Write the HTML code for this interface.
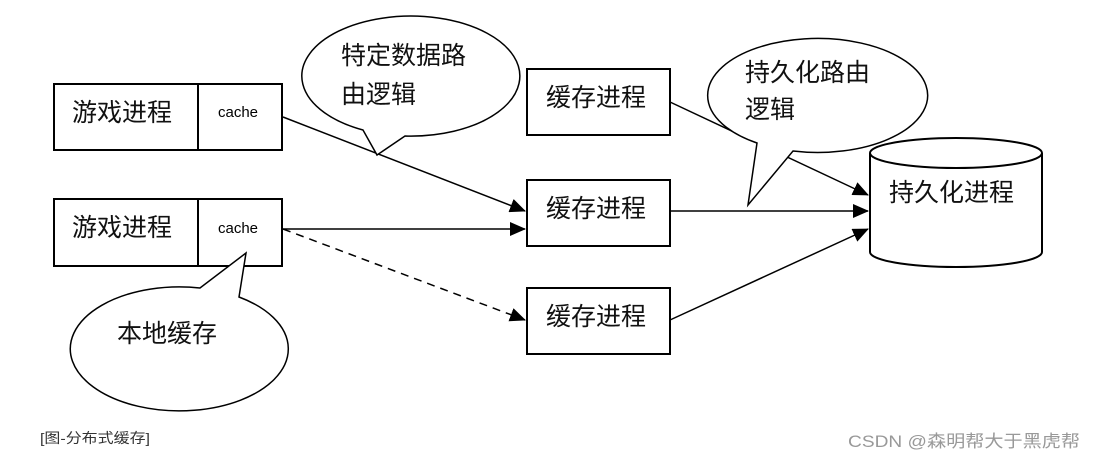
<!DOCTYPE html>
<html><head><meta charset="utf-8"><style>
html,body{margin:0;padding:0;background:#fff;width:1096px;height:461px;overflow:hidden}
svg text{font-family:"Liberation Sans","Noto Sans CJK SC",sans-serif}
</style></head><body>
<svg width="1096" height="461" xmlns="http://www.w3.org/2000/svg">
<defs><marker id="a" markerWidth="16" markerHeight="14" refX="15" refY="7" orient="auto" markerUnits="userSpaceOnUse"><path d="M0,0 L16,7 L0,14 z" fill="#000"/></marker></defs>
<g stroke="#000" stroke-width="2" fill="#fff">
<rect x="54" y="84" width="228" height="66"/><line x1="198" y1="84" x2="198" y2="150"/>
<rect x="54" y="199" width="228" height="67"/><line x1="198" y1="199" x2="198" y2="266"/>
<rect x="527" y="69" width="143" height="66"/>
<rect x="527" y="180" width="143" height="66"/>
<rect x="527" y="288" width="143" height="66"/>
<path d="M870,153 L870,252 A86,15 0 0 0 1042,252 L1042,153" />
<ellipse cx="956" cy="153" rx="86" ry="15"/>
</g>
<g stroke="#000" stroke-width="1.5" fill="none">
<line x1="283" y1="117" x2="525" y2="211" marker-end="url(#a)"/>
<line x1="283" y1="229" x2="525" y2="229" marker-end="url(#a)"/>
<line x1="283" y1="229" x2="525" y2="320" stroke-dasharray="8,6" marker-end="url(#a)"/>
<line x1="670" y1="102" x2="868" y2="195" marker-end="url(#a)"/>
<line x1="670" y1="211" x2="868" y2="211" marker-end="url(#a)"/>
<line x1="670" y1="320" x2="868" y2="229" marker-end="url(#a)"/>
</g>
<g stroke="#000" stroke-width="1.5" fill="#fff">
<path d="M363,130 A109,60 0 1 1 405,136 L377,155 Z"/>
<path d="M757,143 A110,57 0 1 1 793,151 L748,205 Z"/>
<path d="M200,288 A109,62 0 1 0 239,297 L246,253 Z"/>
</g>
<g font-size="25" fill="#111">
<text x="72" y="121">游戏进程</text>
<text x="72" y="236">游戏进程</text>
<text x="546" y="106">缓存进程</text>
<text x="546" y="217">缓存进程</text>
<text x="546" y="325">缓存进程</text>
<text x="889" y="201">持久化进程</text>
<text x="341" y="64">特定数据路</text>
<text x="341" y="103">由逻辑</text>
<text x="745" y="81">持久化路由</text>
<text x="745" y="118">逻辑</text>
<text x="117" y="342">本地缓存</text>
</g>
<text x="218" y="117" font-size="15">cache</text>
<text x="218" y="233" font-size="15">cache</text>
<text x="40" y="443" font-size="14" fill="#333" textLength="110" lengthAdjust="spacingAndGlyphs">[图-分布式缓存]</text>
<text x="848" y="447" font-size="17" fill="#999" textLength="232" lengthAdjust="spacingAndGlyphs">CSDN @森明帮大于黑虎帮</text>
</svg>
</body></html>
